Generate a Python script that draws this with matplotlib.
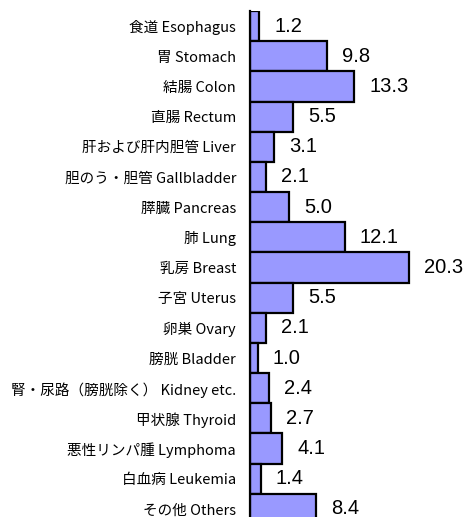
import numpy as np
import matplotlib
matplotlib.use("Agg")
import matplotlib.pyplot as plt

plt.rcParams['font.family'] = ['Noto Sans CJK JP', 'DejaVu Sans']

labels = ["食道 Esophagus", "胃 Stomach", "結腸 Colon", "直腸 Rectum",
          "肝および肝内胆管 Liver", "胆のう・胆管 Gallbladder", "膵臓 Pancreas",
          "肺 Lung", "乳房 Breast", "子宮 Uterus", "卵巣 Ovary", "膀胱 Bladder",
          "腎・尿路（膀胱除く） Kidney etc.", "甲状腺 Thyroid",
          "悪性リンパ腫 Lymphoma", "白血病 Leukemia", "その他 Others"]
values = [1.2, 9.8, 13.3, 5.5, 3.1, 2.1, 5.0, 12.1, 20.3, 5.5, 2.1, 1.0,
          2.4, 2.7, 4.1, 1.4, 8.4]

W, H = 466, 517
fig = plt.figure(figsize=(W / 100, H / 100), dpi=100)
# axes from x=250 to right edge, y=11 to slightly below bottom (last bar clipped)
ax = fig.add_axes([250 / W, -7 / H, (W - 250) / W, (H - 11 + 7) / H])

y = np.arange(len(values))
ax.barh(y, values, height=1.0, color='#9999ff', edgecolor='black', linewidth=1.6)
ax.set_ylim(len(values) - 0.5, -0.5)
ax.set_xlim(0, (W - 250) / 7.83)

for yi, v in zip(y, values):
    ax.annotate(f"{v:.1f}", (v, yi), xytext=(15, 0), textcoords='offset pixels',
                va='center', ha='left', fontsize=14.5,
                family=['Liberation Sans', 'DejaVu Sans'])

ax.set_yticks(y)
ax.set_yticklabels(labels, fontsize=10.5)
ax.tick_params(axis='y', length=0, pad=10)
ax.set_xticks([])
for s in ['top', 'right', 'bottom']:
    ax.spines[s].set_visible(False)
ax.spines['left'].set_linewidth(1.6)

fig.savefig("out.png", dpi=100)
